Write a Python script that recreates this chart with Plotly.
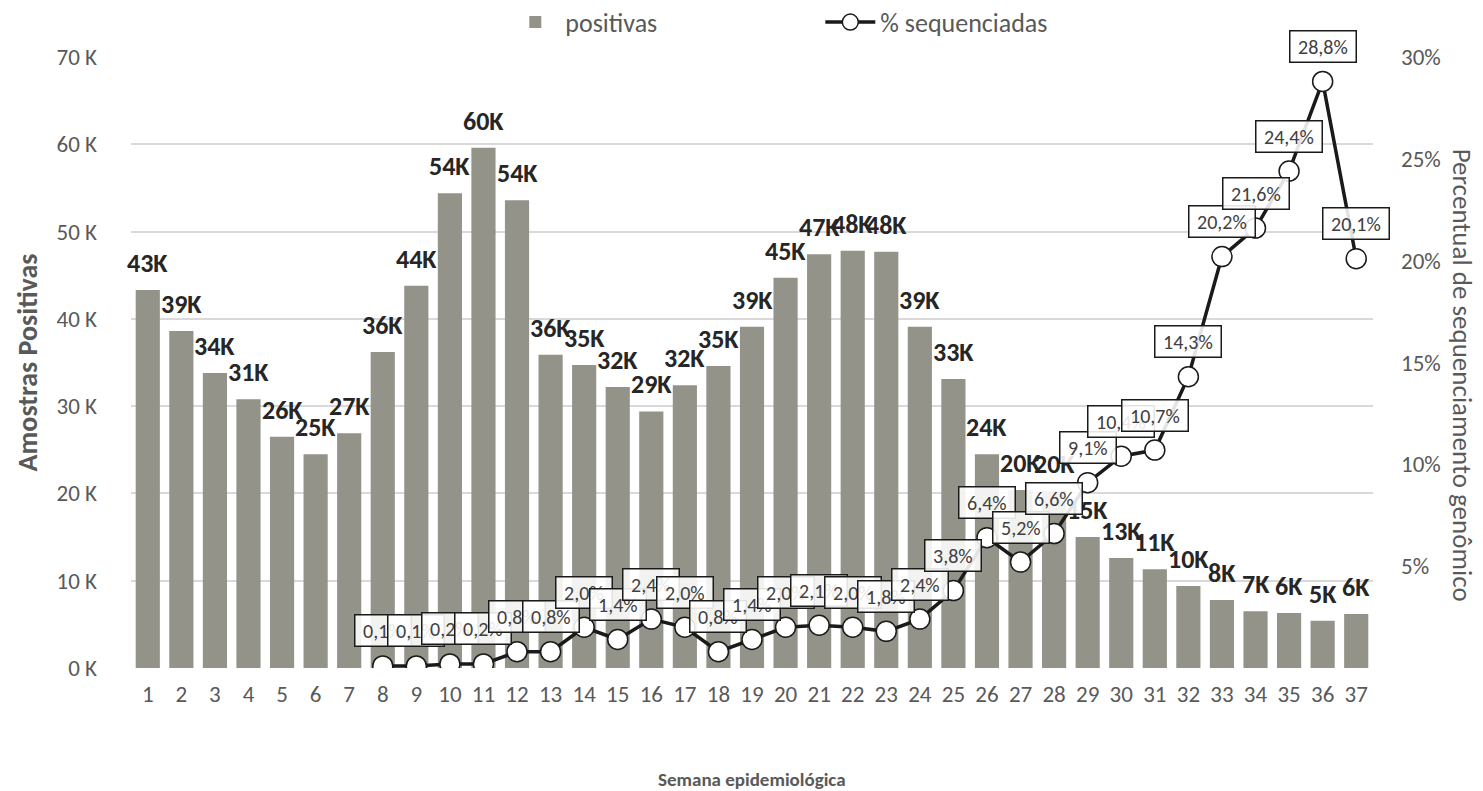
import plotly.graph_objects as go

# semanas epidemiológicas
semanas = list(range(1, 38))

# amostras positivas (milhares)
positivas_k = [43.3, 38.6, 33.8, 30.8, 26.5, 24.5, 26.9, 36.2, 43.8, 54.4,
               59.6, 53.6, 35.9, 34.7, 32.2, 29.4, 32.4, 34.6, 39.1, 44.7,
               47.4, 47.8, 47.7, 39.1, 33.1, 24.5, 20.4, 20.3, 15.0, 12.6,
               11.3, 9.4, 7.8, 6.5, 6.3, 5.4, 6.2]
rotulos_pos = ["43K", "39K", "34K", "31K", "26K", "25K", "27K", "36K", "44K", "54K",
               "60K", "54K", "36K", "35K", "32K", "29K", "32K", "35K", "39K", "45K",
               "47K", "48K", "48K", "39K", "33K", "24K", "20K", "20K", "15K", "13K",
               "11K", "10K", "8K", "7K", "6K", "5K", "6K"]

# % sequenciadas (a partir da semana 8)
semanas_seq = list(range(8, 38))
pct_seq = [0.1, 0.1, 0.2, 0.2, 0.8, 0.8, 2.0, 1.4, 2.4, 2.0,
           0.8, 1.4, 2.0, 2.1, 2.0, 1.8, 2.4, 3.8, 6.4, 5.2,
           6.6, 9.1, 10.4, 10.7, 14.3, 20.2, 21.6, 24.4, 28.8, 20.1]
rotulos_pct = ["0,1%", "0,1%", "0,2%", "0,2%", "0,8%", "0,8%", "2,0%", "1,4%", "2,4%", "2,0%",
               "0,8%", "1,4%", "2,0%", "2,1%", "2,0%", "1,8%", "2,4%", "3,8%", "6,4%", "5,2%",
               "6,6%", "9,1%", "10,4%", "10,7%", "14,3%", "20,2%", "21,6%", "24,4%", "28,8%", "20,1%"]

# eixos
ticks_esq = [0, 10, 20, 30, 40, 50, 60, 70]
ticks_esq_txt = ["0 K", "10 K", "20 K", "30 K", "40 K", "50 K", "60 K", "70 K"]
ticks_dir = [5, 10, 15, 20, 25, 30]
ticks_dir_txt = ["5%", "10%", "15%", "20%", "25%", "30%"]

FONTE = "Carlito, Lato, sans-serif"
CINZA = "#595959"
NBSP = "\u00a0"

fig = go.Figure()

fig.add_trace(go.Bar(
    x=semanas, y=positivas_k, name="positivas",
    marker=dict(color="#939389", line=dict(width=0)),
))

fig.add_trace(go.Scatter(
    x=semanas_seq, y=pct_seq, name="% sequenciadas", yaxis="y2",
    mode="lines+markers",
    line=dict(color="#1a1a1a", width=3.5),
    marker=dict(size=20, color="white", line=dict(color="#1a1a1a", width=1.5)),
))

anots = []
# rótulos das barras
for s, v, t in zip(semanas, positivas_k, rotulos_pos):
    anots.append(dict(x=s, y=v, xref="x", yref="y", text="<b>%s</b>" % t,
                      showarrow=False, yshift=27,
                      font=dict(family=FONTE, size=26, color="#262626")))
# rótulos percentuais em caixas
for s, v, t in zip(semanas_seq, pct_seq, rotulos_pct):
    anots.append(dict(x=s, y=v, xref="x", yref="y2", text=NBSP + t + NBSP,
                      showarrow=False, yshift=35,
                      bgcolor="rgba(255,255,255,0.88)", bordercolor="#1a1a1a",
                      borderwidth=1.5, borderpad=3,
                      font=dict(family=FONTE, size=20, color="#404040")))

anots.append(dict(x=0.5, y=-0.183, xref="paper", yref="paper",
                  xanchor="center", yanchor="middle",
                  text="<b>Semana epidemiológica</b>", showarrow=False,
                  font=dict(family=FONTE, size=19, color=CINZA)))
anots.append(dict(x=-0.083, y=0.5, xref="paper", yref="paper",
                  xanchor="center", yanchor="middle",
                  text="<b>Amostras Positivas</b>", showarrow=False, textangle=-90,
                  font=dict(family=FONTE, size=28, color=CINZA)))
anots.append(dict(x=1.0717, y=0.48, xref="paper", yref="paper",
                  xanchor="center", yanchor="middle",
                  text="Percentual de sequenciamento genômico", showarrow=False, textangle=90,
                  font=dict(family=FONTE, size=27, color=CINZA)))

fig.update_layout(
    width=1475, height=783,
    margin=dict(l=123, r=110, t=49, b=123, autoexpand=False),
    plot_bgcolor="white", paper_bgcolor="white",
    font=dict(family=FONTE, size=23, color=CINZA),
    bargap=0.28,
    showlegend=True,
    legend=dict(orientation="h", x=0.555, xanchor="center", y=1.057, yanchor="middle",
                font=dict(size=26, color=CINZA), itemwidth=50,
                entrywidth=250, entrywidthmode="pixels"),
    xaxis=dict(tickmode="array", tickvals=semanas, ticktext=[str(s) for s in semanas],
               range=[0.5, 37.5], showgrid=False, zeroline=False, showline=False,
               ticks="", ticklabelstandoff=10, tickfont=dict(size=23, color=CINZA)),
    yaxis=dict(range=[0, 70], tickvals=ticks_esq, ticktext=ticks_esq_txt,
               showgrid=True, gridcolor="#d9d9d9", gridwidth=1.5, zeroline=False,
               showline=False, ticks="", ticklabelstandoff=33,
               tickfont=dict(size=23, color=CINZA)),
    yaxis2=dict(range=[0, 30], overlaying="y", side="right",
                tickvals=ticks_dir, ticktext=ticks_dir_txt, showgrid=False,
                zeroline=False, showline=False, ticks="", ticklabelstandoff=27,
                tickfont=dict(size=23, color=CINZA)),
    annotations=anots,
)

fig.write_html("out.html")
